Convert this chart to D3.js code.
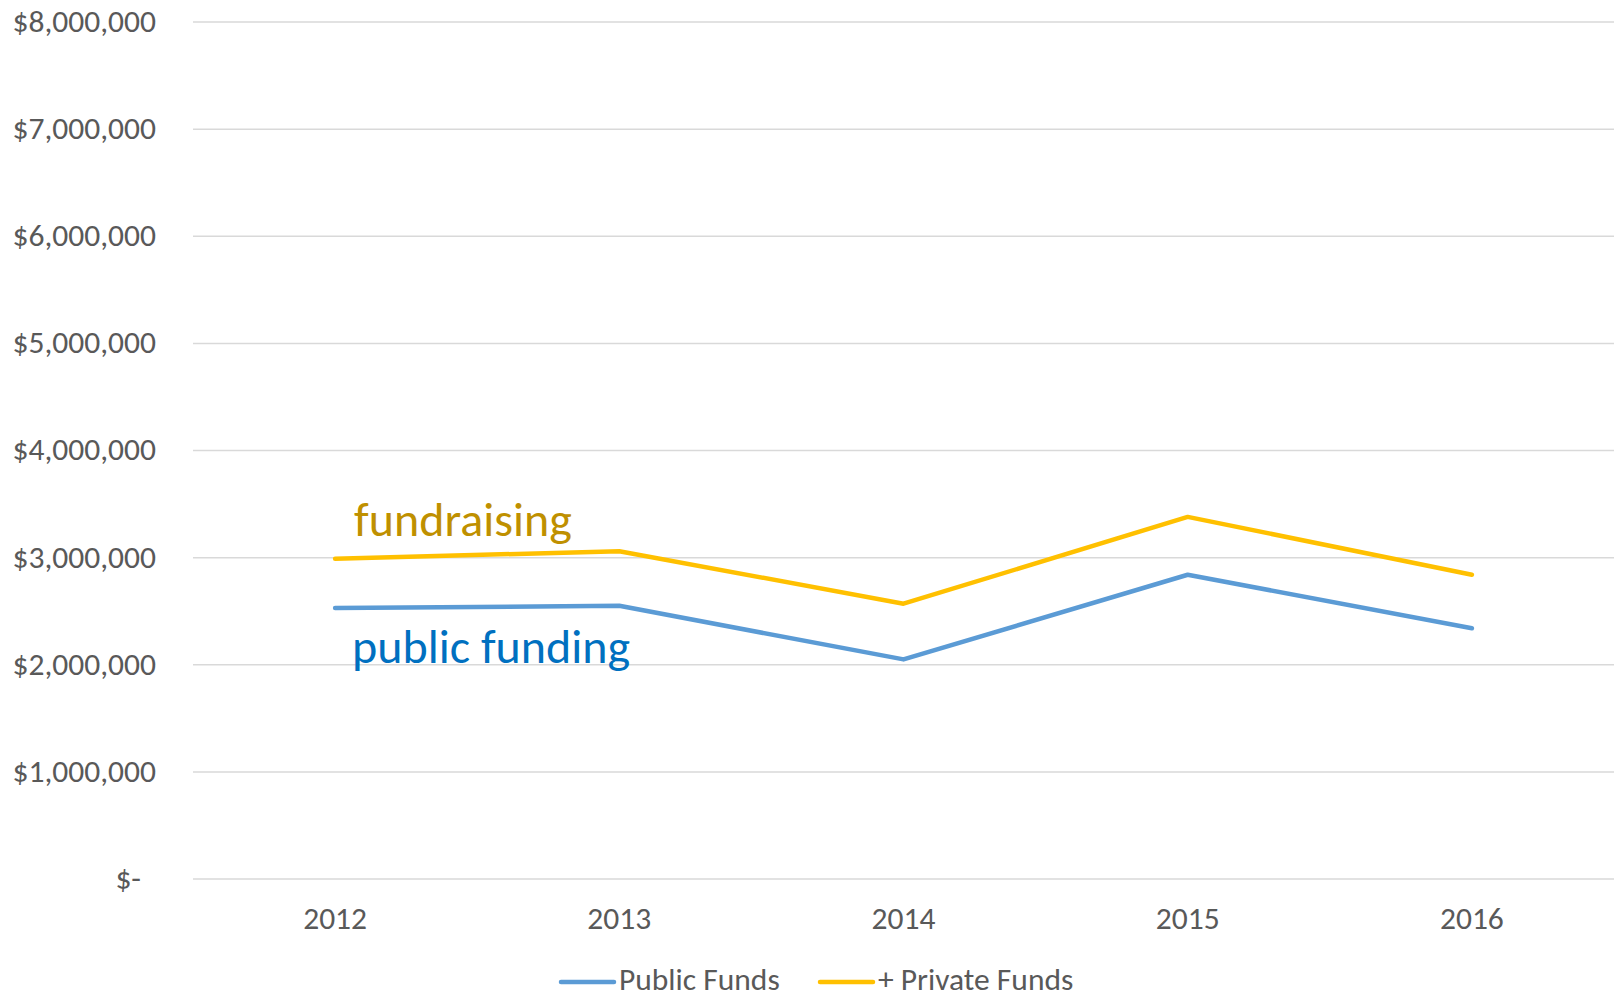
<!DOCTYPE html>
<html><head><meta charset="utf-8">
<script src="https://cdn.jsdelivr.net/npm/d3@7"></script>
<style>
html,body{margin:0;padding:0;background:#fff;}
svg{display:block;font-family:Carlito,Calibri,Lato,"Open Sans",sans-serif;}
</style></head>
<body>
<svg id="chart" width="1619" height="998"></svg>
<script>
const years = ["2012","2013","2014","2015","2016"];
const publicFunds = [2530000, 2550000, 2050000, 2840000, 2340000];
const privateFunds = [2990000, 3060000, 2570000, 3380000, 2840000];
const yTicks = [0,1000000,2000000,3000000,4000000,5000000,6000000,7000000,8000000];
const seriesNames = ["Public Funds","+ Private Funds"];
const seriesColors = ["#5B9BD5","#FFC000"];
const annotations = ["public funding","fundraising"];

(function(){
const svg = d3.select("#chart");
const mLeft = 193, mRight = 1614, mTop = 22, mBottom = 879;
const fs = 31.5;

const x = d3.scaleBand().domain(years).range([mLeft, mRight]);
const y = d3.scaleLinear().domain([0, 8000000]).range([mBottom, mTop]);

const fmt = v => v === 0 ? "$-" : "$" + d3.format(",")(v);

// gridlines
svg.append("g").selectAll("line").data(yTicks).join("line")
  .attr("x1", mLeft).attr("x2", mRight)
  .attr("y1", d => y(d)).attr("y2", d => y(d))
  .attr("stroke", "#D9D9D9").attr("stroke-width", 1.5);

// y axis labels
const yAxis = d3.axisLeft(y).tickValues(yTicks).tickFormat(fmt).tickSize(0).tickPadding(0);
const gy = svg.append("g").attr("transform", `translate(${mLeft-37},0)`).call(yAxis);
gy.select(".domain").remove();
gy.selectAll("text").attr("font-size", fs).attr("fill", "#595959")
  .attr("font-family", "Carlito,Calibri,Lato,sans-serif").attr("dy", "0.3em");
gy.selectAll("text").filter(d => d === 0).attr("dx", -15);

// x axis labels
const xAxis = d3.axisBottom(x).tickSize(0).tickPadding(0);
const gx = svg.append("g").attr("transform", `translate(0,${mBottom+28})`).call(xAxis);
gx.select(".domain").remove();
gx.selectAll("text").attr("font-size", fs).attr("fill", "#595959")
  .attr("font-family", "Carlito,Calibri,Lato,sans-serif");

// lines
const line = d3.line().x((d,i) => x(years[i]) + x.bandwidth()/2).y(d => y(d));
[publicFunds, privateFunds].forEach((s, k) => {
  svg.append("path").datum(s).attr("d", line)
    .attr("fill", "none").attr("stroke", seriesColors[k])
    .attr("stroke-width", 4.5).attr("stroke-linejoin", "round").attr("stroke-linecap", "round");
});

// annotations
const ax = x(years[0]) + x.bandwidth()/2 + 19;
svg.append("text").attr("x", ax).attr("y", y(privateFunds[0]) - 23)
  .attr("font-size", 48).attr("fill", "#BF9000").text(annotations[1]);
svg.append("text").attr("x", ax - 2).attr("y", y(publicFunds[0]) + 55)
  .attr("font-size", 48).attr("fill", "#0070C0").text(annotations[0]);

// legend
const lg = svg.append("g");
const legendItems = [{sx:561, tx:619}, {sx:820, tx:878}];
legendItems.forEach((it, k) => {
  lg.append("line").attr("x1", it.sx).attr("x2", it.sx + 53).attr("y1", 982).attr("y2", 982)
    .attr("stroke", seriesColors[k]).attr("stroke-width", 4.5).attr("stroke-linecap", "round");
  lg.append("text").attr("x", it.tx).attr("y", 979).attr("dy", "0.35em")
    .attr("font-size", fs).attr("fill", "#595959").text(seriesNames[k]);
});
})();
</script>
</body></html>
